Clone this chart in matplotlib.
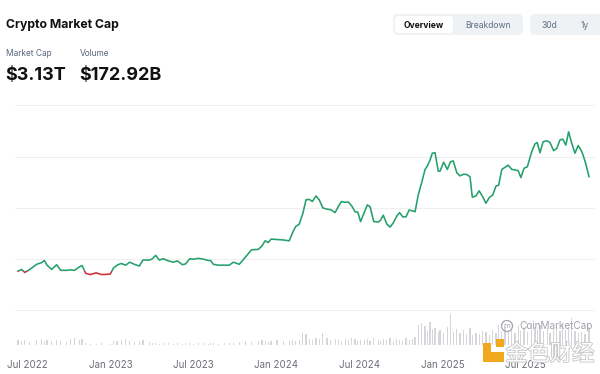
import matplotlib
matplotlib.use("Agg")
import numpy as np
import pandas as pd
import matplotlib.pyplot as plt
import matplotlib.dates as mdates
from matplotlib.patches import Rectangle, FancyBboxPatch, Circle
import matplotlib.patheffects as pe

plt.rcParams['font.family'] = ['Inter', 'DejaVu Sans']

# =============================================================================
# Data
# =============================================================================
start_date = pd.Timestamp('2022-07-01')

# days since 2022-07-01 for each point of the market cap line
day_offsets = [
    -20, -12, -5, 6, 21, 32, 38, 44, 54, 65, 74, 87, 95, 105, 115, 121,
    129, 139, 152, 164, 183,
    190, 198, 207, 217, 226, 236, 247, 255, 270, 276, 283, 291,
    300, 311, 322, 331, 342, 349, 358, 367, 377, 388, 399, 404, 410, 421, 435, 445, 454, 467,
    480, 494, 509, 517, 524, 531, 537, 550, 564, 577, 584, 591, 599,
    607, 614, 621, 628, 636, 643, 651, 660, 668, 678, 685, 692, 700, 707, 715, 722, 728, 734,
    742, 749, 755, 763, 773, 778, 784, 792, 799, 806, 814, 820, 827, 834, 841, 849, 854,
    861, 869, 876, 881, 887, 892, 898, 905, 909, 917, 925, 932, 938, 946, 953, 961, 968, 975,
    980, 988, 995, 1003, 1010, 1018, 1025, 1032, 1038, 1045, 1052, 1059, 1067, 1074, 1081,
    1087, 1094, 1101, 1111, 1118, 1123, 1129, 1136, 1145, 1151, 1159, 1166, 1173, 1179, 1186,
    1192, 1199, 1206, 1213, 1221, 1228, 1237,
]

# total market cap, trillion USD
market_cap_t = [
    0.92, 0.96, 0.89, 0.96, 1.08, 1.12, 1.17, 1.06, 0.96, 1.07, 0.94, 0.94, 0.95, 0.94, 1.02, 1.05,
    0.87, 0.84, 0.88, 0.84, 0.85,
    0.99, 1.06, 1.10, 1.06, 1.13, 1.08, 1.04, 1.18, 1.18, 1.21, 1.29, 1.18,
    1.21, 1.16, 1.13, 1.16, 1.07, 1.09, 1.21, 1.20, 1.22, 1.20, 1.17, 1.17, 1.08, 1.06, 1.06, 1.06,
    1.13, 1.08,
    1.24, 1.42, 1.43, 1.51, 1.63, 1.59, 1.67, 1.66, 1.65, 1.63, 1.81, 1.96, 2.02,
    2.27, 2.59, 2.60, 2.55, 2.68, 2.59, 2.40, 2.37, 2.36, 2.29, 2.43, 2.55, 2.53, 2.54, 2.44, 2.31,
    2.30, 2.08,
    2.29, 2.47, 2.43, 2.08, 2.07, 2.11, 2.23, 2.02, 1.95, 2.05, 2.21, 2.29, 2.19, 2.19, 2.35, 2.33, 2.31,
    2.70, 3.01, 3.30, 3.38, 3.52, 3.68, 3.69, 3.26, 3.26, 3.47, 3.30, 3.48, 3.50, 3.22, 3.15, 3.19,
    3.18, 3.13,
    2.65, 2.68, 2.80, 2.66, 2.51, 2.65, 2.70, 2.91, 2.93, 3.30, 3.35, 3.40, 3.30, 3.29, 3.27, 3.11,
    3.33, 3.36, 3.72, 3.90, 3.93, 3.69, 3.95, 3.97, 3.93, 3.74, 3.79, 3.99, 4.01, 3.87, 4.18, 3.91,
    3.68, 3.86, 3.72, 3.50, 3.13,
]

# volume, billion USD (one bar per point)
volume_b = [
    50, 40, 50, 30, 50, 60, 40, 50, 40, 50, 40, 30, 60, 70, 50, 60,
    20, 10, 10, 20, 10,
    40, 40, 50, 60, 40, 30, 40, 50, 30, 20, 20, 10,
    20, 20, 10, 20, 10, 20, 20, 10, 20, 20, 10, 20, 20, 10, 20, 20, 20, 30,
    40, 30, 40, 50, 40, 30, 40, 50, 40, 40, 50, 40, 50,
    120, 110, 60, 50, 70, 60, 120, 70, 50, 60, 50, 40, 60, 50, 70, 60, 40, 50,
    50, 60, 40, 70, 50, 40, 60, 50, 70, 40, 60, 50, 40, 70, 50, 60, 80,
    200, 220, 190, 140, 230, 160, 170, 130, 150, 120, 180, 310, 130, 160, 120, 150, 110, 170,
    100, 120, 110, 140, 130, 100, 150, 120, 200, 140, 180, 130, 160, 120, 190, 140, 170, 130,
    220, 180, 150, 200, 140, 170, 120, 160, 190, 140, 210, 150, 180, 270, 140, 120, 130, 110, 170,
]

tick_dates = ['2022-07-01', '2023-01-01', '2023-07-01', '2024-01-01',
              '2024-07-01', '2025-01-01', '2025-07-01']
tick_labels = ['Jul 2022', 'Jan 2023', 'Jul 2023', 'Jan 2024',
               'Jul 2024', 'Jan 2025', 'Jul 2025']
grid_levels = [0.0, 1.2, 2.4, 3.6, 4.8]

header_title = 'Crypto Market Cap'
stat_labels = ['Market Cap', 'Volume']
stat_values = ['$3.13T', '$172.92B']

# =============================================================================
# Figure
# =============================================================================
GREEN = '#23a06b'
RED = '#cf2f3c'

dates = start_date + pd.to_timedelta(day_offsets, unit='D')
fig = plt.figure(figsize=(6, 3.74), dpi=100)
fig.patch.set_facecolor('white')

# price axes (pixel box: x 15..595, y 95..345)
ax = fig.add_axes([15 / 600, 29 / 374, 580 / 600, 250 / 374])
ax2 = ax.twinx()
ax.set_zorder(ax2.get_zorder() + 1)
ax.patch.set_visible(False)

x0 = mdates.date2num(start_date)
ax.set_xlim(x0 - 26.6, x0 + 1250.1)
ax.set_ylim(-0.808, 5.042)

for g in grid_levels:
    ax.axhline(g, color='#efefef', lw=0.8, zorder=0)

# volume bars
ax2.bar(dates, volume_b, width=2.6, color='#d4d6da', linewidth=0)
ax2.set_ylim(0, 2500)

# line: green above the first value, red below it
base = market_cap_t[0]
for color, rect in [(GREEN, (x0 - 100, base, 2000, 10)),
                    (RED, (x0 - 100, base - 10, 2000, 10))]:
    ln, = ax.plot(dates, market_cap_t, color=color, lw=1.15, solid_joinstyle='round', zorder=3)
    clip = Rectangle(rect[:2], rect[2], rect[3], transform=ax.transData)
    ln.set_clip_path(clip)

for a in (ax, ax2):
    for s in a.spines.values():
        s.set_visible(False)
    a.tick_params(length=0)
ax2.set_yticks([])
ax.set_yticks([])
ax.set_xticks(pd.to_datetime(tick_dates))
ax.set_xticklabels(tick_labels, fontsize=7, color='#6b6f76')
ax.tick_params(axis='x', pad=11)

# header / controls in pixel coordinates
ov = fig.add_axes([0, 0, 1, 1], zorder=10)
ov.set_xlim(0, 600)
ov.set_ylim(374, 0)
ov.axis('off')

ov.text(6, 25, header_title, fontsize=8.8, fontweight='bold', color='#111111', va='center')
ov.text(6, 53, stat_labels[0], fontsize=6.0, color='#58667e', va='center')
ov.text(80, 53, stat_labels[1], fontsize=6.0, color='#58667e', va='center')
ov.text(5, 75, stat_values[0], fontsize=13, fontweight='bold', color='#111111', va='center')
ov.text(79, 75, stat_values[1], fontsize=13, fontweight='bold', color='#111111', va='center')

ov.add_patch(FancyBboxPatch((393, 14), 130, 21, boxstyle='round,pad=0,rounding_size=5',
                            fc='#eff2f5', ec='none'))
ov.add_patch(FancyBboxPatch((395, 16), 58, 17, boxstyle='round,pad=0,rounding_size=4',
                            fc='white', ec='none'))
ov.text(424, 25, 'Overview', fontsize=6.2, fontweight='bold', color='#111111',
        ha='center', va='center')
ov.text(488, 25, 'Breakdown', fontsize=6.2, color='#616e85', ha='center', va='center')
ov.add_patch(FancyBboxPatch((530, 14), 80, 21, boxstyle='round,pad=0,rounding_size=5',
                            fc='#eff2f5', ec='none'))
ov.text(549, 25, '30d', fontsize=6.2, color='#616e85', ha='center', va='center')
ov.text(585, 25, '1y', fontsize=6.2, color='#616e85', ha='center', va='center')

# watermarks
ov.add_patch(Circle((507, 326), 5.5, fc='none', ec='#a0a4aa', lw=0.9))
ov.text(507, 326.5, 'm', fontsize=5.5, color='#a0a4aa', ha='center', va='center')
ov.text(519, 326, 'CoinMarketCap', fontsize=7.2, color='#a0a4aa', va='center')

ov.add_patch(Rectangle((483, 352), 21, 10, fc='#f0a81c', ec='none'))
ov.add_patch(Rectangle((483, 343), 8, 19, fc='#f0a81c', ec='none'))
ov.add_patch(Rectangle((496, 339), 8, 8, fc='#f0a81c', ec='none'))
ov.text(550, 354, '金色财经', fontsize=16, color='white', ha='center', va='center',
        family=['Noto Sans CJK SC', 'DejaVu Sans'],
        path_effects=[pe.withStroke(linewidth=1.2, foreground='#c4c4c4')])

fig.savefig('out.png', dpi=100, facecolor='white')
